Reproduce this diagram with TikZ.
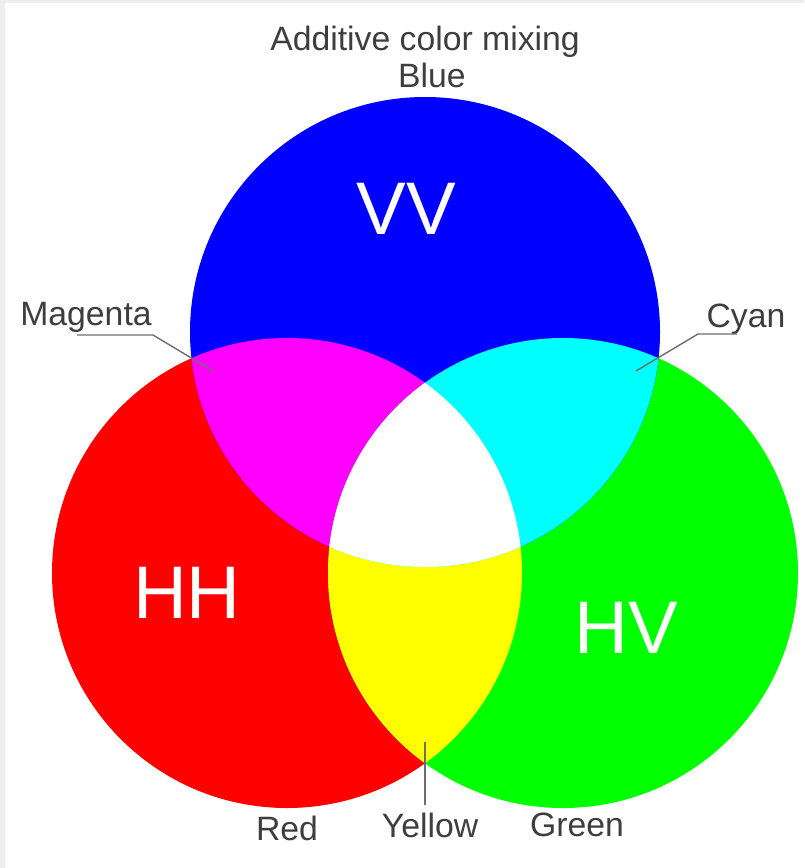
\documentclass[tikz,border=0pt]{standalone}
\usepackage{fontspec}
\setmainfont{Liberation Sans}
\usepackage{tikz}
\definecolor{labelgray}{RGB}{62,62,62}
\definecolor{leadgray}{RGB}{110,110,110}
\definecolor{framegray}{RGB}{238,238,238}
\definecolor{addred}{RGB}{255,0,0}
\definecolor{addgreen}{RGB}{0,255,0}
\definecolor{addblue}{RGB}{0,0,255}
\definecolor{addmagenta}{RGB}{255,0,255}
\definecolor{addcyan}{RGB}{0,255,255}
\definecolor{addyellow}{RGB}{255,255,0}

\begin{document}
\begin{tikzpicture}[x=0.025cm,y=-0.025cm,
  lbl/.style={anchor=base,inner sep=0pt,text=labelgray,font=\fontsize{24}{28}\selectfont},
  big/.style={anchor=base,inner sep=0pt,text=white,font=\fontsize{53}{60}\selectfont},
  lead/.style={leadgray,line width=1pt}
]
  \useasboundingbox (0,0) rectangle (804,868);
  \fill[framegray] (0,0) rectangle (804,868);
  \fill[white] (5,3) rectangle (804,868);

  \coordinate (cb) at (425,332);
  \coordinate (cr) at (287,573);
  \coordinate (cg) at (563,573);

  \fill[addred] (cr) circle[radius=235];
  \fill[addgreen] (cg) circle[radius=235];
  \fill[addblue] (cb) circle[radius=235];
  \begin{scope}
    \clip (cr) circle[radius=235];
    \fill[addmagenta] (cb) circle[radius=235];
    \fill[addyellow] (cg) circle[radius=235];
  \end{scope}
  \begin{scope}
    \clip (cg) circle[radius=235];
    \fill[addcyan] (cb) circle[radius=235];
    \clip (cr) circle[radius=235];
    \fill[white] (cb) circle[radius=235];
  \end{scope}

  \node[lbl] (title) at (425,50) {Additive color mixing};
  \node[lbl] (blue) at (432,87) {Blue};
  \node[lbl] (magenta) at (86,325) {Magenta};
  \node[lbl] (cyan) at (746,327) {Cyan};
  \node[lbl] (red) at (287,840) {Red};
  \node[lbl] (yellow) at (430,837) {Yellow};
  \node[lbl] (green) at (577,836) {Green};

  \node[big] (vv) at (406,234) {VV};
  \node[big] (hh) at (187,618) {HH};
  \node[big] (hv) at (626,653) {HV};

  \coordinate (magL) at (77,335);
  \coordinate (magK) at (153,335);
  \coordinate (magP) at (213,371);
  \coordinate (cyaR) at (737,334);
  \coordinate (cyaK) at (698,334);
  \coordinate (cyaP) at (636,371);
  \coordinate (yelT) at (425,742);
  \coordinate (yelB) at (425,805);

  \draw[lead] (magL) -- (magK) -- (magP);
  \draw[lead] (cyaR) -- (cyaK) -- (cyaP);
  \draw[lead] (yelT) -- (yelB);
\end{tikzpicture}
\end{document}
